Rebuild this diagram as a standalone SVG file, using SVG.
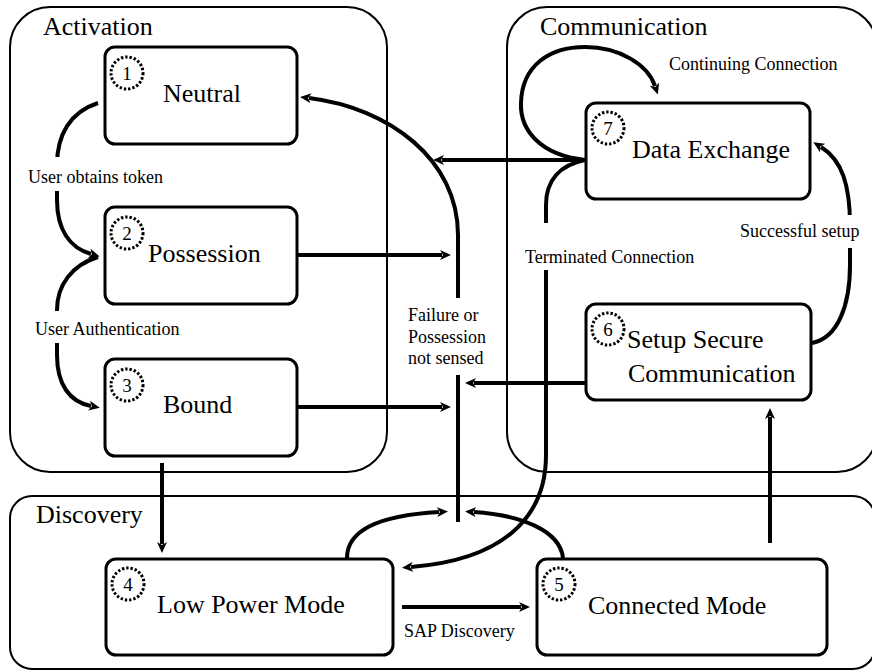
<svg xmlns="http://www.w3.org/2000/svg" width="872" height="671" viewBox="0 0 872 671">
  <defs>
    <marker id="arrow" viewBox="0 0 11 10" refX="2" refY="5" markerWidth="11" markerHeight="10" markerUnits="userSpaceOnUse" orient="auto">
      <path d="M0,0 L11,5 L0,10 L3,5 z" fill="#000"/>
    </marker>
    <style>
      .container { fill: none; stroke: #000; stroke-width: 2; }
      .box { fill: #fff; stroke: #000; stroke-width: 3; }
      .num { fill: none; stroke: #000; stroke-width: 3; stroke-dasharray: 2.4 1.9; }
      .conn { fill: none; stroke: #000; stroke-width: 4; }
      .arr { marker-end: url(#arrow); }
      text { font-family: "Liberation Serif", Lato, serif; fill: #000; }
      .title { font-size: 26px; }
      .label { font-size: 26px; }
      .digit { font-size: 19px; text-anchor: middle; }
      .small { font-size: 18px; }
      .bg { fill: #fff; stroke: none; }
    </style>
  </defs>
  <rect width="872" height="671" fill="#fff"/>

  <!-- state groups -->
  <g id="group-activation">
    <rect class="container" x="10" y="7" width="377" height="465" rx="40"/>
    <text class="title" x="43" y="35">Activation</text>
  </g>
  <g id="group-communication">
    <rect class="container" x="507" y="7" width="370" height="465" rx="40"/>
    <text class="title" x="540" y="35">Communication</text>
  </g>
  <g id="group-discovery">
    <rect class="container" x="10" y="496" width="865" height="173" rx="22"/>
    <text class="title" x="36" y="523">Discovery</text>
  </g>

  <!-- transitions -->
  <g id="connectors">
    <!-- 1 -> 2 : user obtains token -->
    <path class="conn arr" d="M98,103 C70,112 57,135 57,165 L57,200 C57,230 70,248 91,254"/>
    <!-- 2 -> 3 : user authentication -->
    <path class="conn arr" d="M98,257 C72,265 57,285 57,310 L57,355 C57,385 70,402 91,406"/>
    <!-- failure bus back to Neutral -->
    <path class="conn arr" d="M458,522 L458,235 C458,160 390,108 309,98"/>
    <path class="conn arr" d="M297,255 L442,255"/>
    <path class="conn arr" d="M297,407 L442,407"/>
    <path class="conn arr" d="M586,383 L474,383"/>
    <path class="conn arr" d="M586,160 L442,160"/>
    <!-- continuing connection loop -->
    <path class="conn arr" d="M585,160 C540,155 520,130 521,103 C522,65 550,47 585,47 C620,47 648,65 655,86"/>
    <!-- terminated connection -->
    <path class="conn arr" d="M585,160 C560,165 546,180 546,205 L546,455 C546,520 500,560 411,567"/>
    <!-- low power / connected back to the failure bus -->
    <path class="conn arr" d="M347,558 C347,528 385,515 439,512"/>
    <path class="conn arr" d="M563,558 C560,530 520,515 474,512"/>
    <!-- Bound -> Low Power Mode -->
    <path class="conn arr" d="M162,463 L162,544"/>
    <!-- SAP discovery -->
    <path class="conn arr" d="M402,607 L521,607"/>
    <!-- Connected Mode -> Setup -->
    <path class="conn arr" d="M770,543 L770,417"/>
    <!-- successful setup -->
    <path class="conn arr" d="M812,343 C838,338 850,305 850,265 L850,225 C850,185 842,160 821,147"/>
  </g>

  <!-- transition labels -->
  <g id="connector-labels">
    <rect class="bg" x="26" y="157" width="144" height="34"/>
    <text class="small" x="28" y="183">User obtains token</text>
    <rect class="bg" x="33" y="311" width="157" height="32"/>
    <text class="small" x="35" y="335">User Authentication</text>
    <rect class="bg" x="405" y="298" width="88" height="77"/>
    <text class="small" x="408" y="321">Failure or</text>
    <text class="small" x="408" y="343">Possession</text>
    <text class="small" x="408" y="364">not sensed</text>
    <rect class="bg" x="522" y="223" width="181" height="47"/>
    <text class="small" x="525" y="263">Terminated Connection</text>
    <text class="small" x="669" y="70">Continuing Connection</text>
    <rect class="bg" x="738" y="215" width="128" height="33"/>
    <text class="small" x="740" y="237">Successful setup</text>
    <text class="small" x="404" y="637">SAP Discovery</text>
  </g>

  <!-- states -->
  <g id="node-neutral">
    <rect class="box" x="105" y="47" width="192" height="97" rx="10"/>
    <circle class="num" cx="127" cy="73" r="16"/>
    <text class="digit" x="127" y="80">1</text>
    <text class="label" x="163" y="102">Neutral</text>
  </g>
  <g id="node-possession">
    <rect class="box" x="105" y="207" width="192" height="97" rx="10"/>
    <circle class="num" cx="127" cy="233" r="16"/>
    <text class="digit" x="127" y="240">2</text>
    <text class="label" x="148" y="262">Possession</text>
  </g>
  <g id="node-bound">
    <rect class="box" x="105" y="359" width="192" height="97" rx="10"/>
    <circle class="num" cx="127" cy="385" r="16"/>
    <text class="digit" x="127" y="392">3</text>
    <text class="label" x="163" y="413">Bound</text>
  </g>
  <g id="node-low-power">
    <rect class="box" x="106" y="559" width="287" height="96" rx="10"/>
    <circle class="num" cx="128" cy="584" r="16"/>
    <text class="digit" x="128" y="591">4</text>
    <text class="label" x="157" y="613">Low Power Mode</text>
  </g>
  <g id="node-connected">
    <rect class="box" x="537" y="559" width="290" height="96" rx="10"/>
    <circle class="num" cx="559" cy="584" r="16"/>
    <text class="digit" x="559" y="591">5</text>
    <text class="label" x="588" y="614">Connected Mode</text>
  </g>
  <g id="node-setup">
    <rect class="box" x="586" y="304" width="225" height="96" rx="10"/>
    <circle class="num" cx="608" cy="329" r="16"/>
    <text class="digit" x="608" y="336">6</text>
    <text class="label" x="627" y="348">Setup Secure</text>
    <text class="label" x="628" y="382">Communication</text>
  </g>
  <g id="node-data-exchange">
    <rect class="box" x="586" y="103" width="224" height="96" rx="10"/>
    <circle class="num" cx="608" cy="128" r="16"/>
    <text class="digit" x="608" y="135">7</text>
    <text class="label" x="632" y="158">Data Exchange</text>
  </g>
</svg>
